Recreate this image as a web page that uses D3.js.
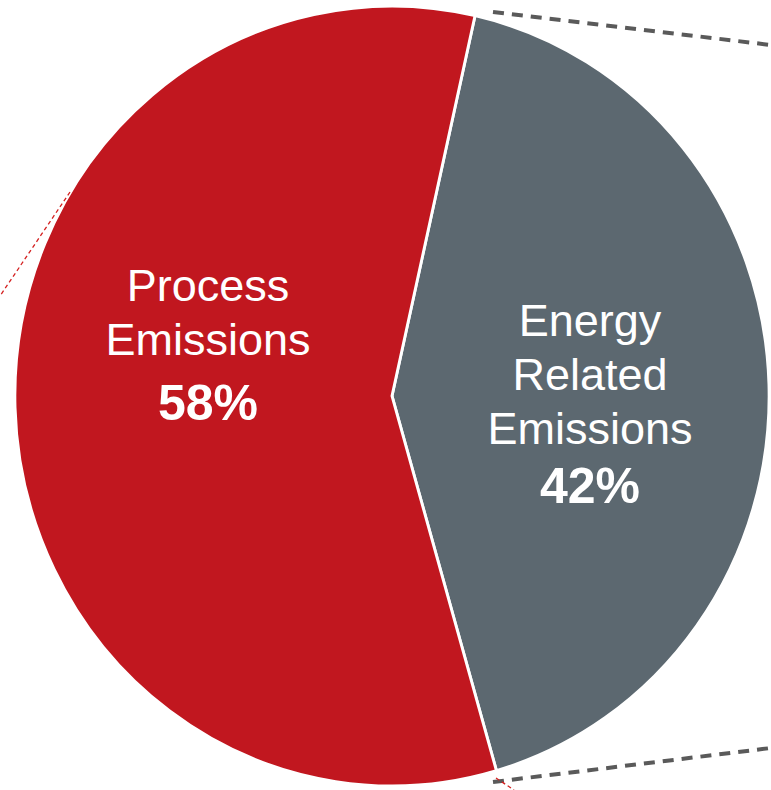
<!DOCTYPE html>
<html><head><meta charset="utf-8">
<script src="https://cdn.jsdelivr.net/npm/d3@7"></script>
<style>html,body{margin:0;padding:0;background:#fff;}svg{display:block;}</style>
</head><body>
<svg id="chart" width="771" height="790"></svg>
<script>
const categories = ["Energy Related Emissions", "Process Emissions"];
const values = [42, 58];
const labelLines = [["Energy", "Related", "Emissions"], ["Process", "Emissions"]];
const pctLabels = ["42%", "58%"];
const colors = ["#5C6870", "#C1171F"];

const svg = d3.select("#chart");
const cx = 392, cy = 396, r = 390, sx = 0.967;
const g = svg.append("g").attr("transform", `translate(${cx},${cy}) scale(${sx},1)`);

const pie = d3.pie().sort(null).value(d => d).startAngle(0.222).endAngle(0.222 + 2 * Math.PI);
const arcs = pie(values);
const arc = d3.arc().innerRadius(0).outerRadius(r);

g.selectAll("path.slice").data(arcs).join("path")
  .attr("class", "slice")
  .attr("d", arc)
  .attr("fill", (d, i) => colors[i])
  .attr("stroke", "#fff").attr("stroke-width", 3).attr("stroke-linejoin", "miter");

// connector dashed lines
svg.append("line").attr("x1", 493).attr("y1", 12).attr("x2", 771).attr("y2", 45)
  .attr("stroke", "#5a5a5a").attr("stroke-width", 4).attr("stroke-dasharray", "11,8");
svg.append("line").attr("x1", 493).attr("y1", 782).attr("x2", 771).attr("y2", 748)
  .attr("stroke", "#5a5a5a").attr("stroke-width", 4).attr("stroke-dasharray", "11,8");
svg.append("line").attr("x1", 70).attr("y1", 192).attr("x2", 0).attr("y2", 296)
  .attr("stroke", "#d42020").attr("stroke-width", 1.3).attr("stroke-dasharray", "4,3");
svg.append("line").attr("x1", 496).attr("y1", 778).attr("x2", 514).attr("y2", 790)
  .attr("stroke", "#d42020").attr("stroke-width", 1.3).attr("stroke-dasharray", "4,3");

const labelPos = [{x: 590, y0: 336, dy: 54, py: 503}, {x: 208, y0: 301, dy: 54, py: 420}];
labelLines.forEach((lines, i) => {
  const p = labelPos[i];
  const t = svg.append("text").attr("text-anchor", "middle")
    .attr("font-family", "Liberation Sans, Arial, sans-serif").attr("fill", "#fff");
  lines.forEach((ln, j) => {
    t.append("tspan").attr("x", p.x).attr("y", p.y0 + j * p.dy)
      .attr("font-size", 45).text(ln);
  });
  t.append("tspan").attr("x", p.x).attr("y", p.py)
    .attr("font-size", 50).attr("font-weight", "bold").text(pctLabels[i]);
});
</script>
</body></html>
